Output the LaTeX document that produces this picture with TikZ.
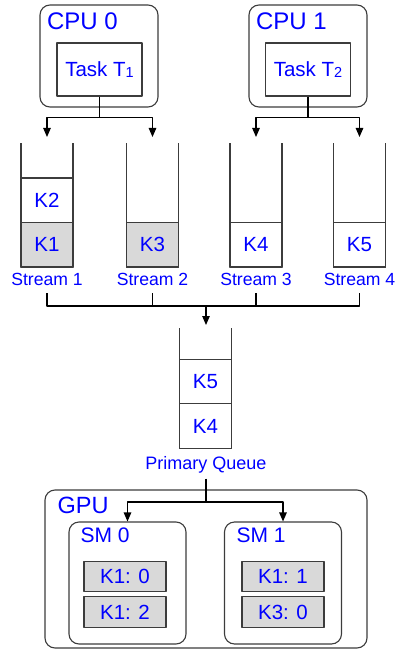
\documentclass[tikz,border=0pt]{standalone}
\usepackage{fontspec}
\setmainfont{Liberation Sans}
\usetikzlibrary{arrows.meta,calc}
\definecolor{qblue}{RGB}{0,0,255}
\definecolor{kgray}{RGB}{217,217,217}
\definecolor{edgegray}{RGB}{60,60,60}
\newcommand{\fsz}[1]{\fontsize{#1}{#1}\selectfont}
\begin{document}
\begin{tikzpicture}[x=1pt,y=-1pt,line join=round,line width=1.1pt,>={Triangle[length=9pt,width=7.5pt]}]
	\tikzset{every node/.style={text=qblue,inner sep=0pt},
		roundbox/.style={draw=edgegray,rounded corners=10pt},
		taskbox/.style={draw=edgegray,minimum width=85pt,minimum height=53pt,font=\fsz{20.5}},
		kbox/.style={draw=edgegray,fill=white,minimum width=52pt,minimum height=44.5pt,font=\fsz{20.5}},
		kdone/.style={kbox,fill=kgray},
		blk/.style={draw=edgegray,fill=kgray,minimum width=82pt,minimum height=30.5pt,font=\fsz{20.5}},
		title/.style={anchor=base west,font=\fsz{24}},
		caption/.style={anchor=base,font=\fsz{17.6}}}
	\useasboundingbox (0,0) rectangle (400,650);
	% host side
	\node[roundbox,minimum width=118pt,minimum height=102pt] (cpu0) at (99,56) {};
	\node[roundbox,minimum width=118pt,minimum height=102pt] (cpu1) at (308,56) {};
	\node[title] at (46.5,29.3) {CPU 0};
	\node[title] at (255.5,29.3) {CPU 1};
	\node[taskbox] (task0) at (99.5,69.5) {Task T\raisebox{-1.5pt}{\fsz{14.5}1}};
	\node[taskbox] (task1) at (308,69.5) {Task T\raisebox{-1.5pt}{\fsz{14.5}2}};
	% streams
	\foreach \x/\n in {47/1,152.5/2,256/3,359.5/4}{
		\draw[edgegray] (\x-26,143) |- (\x+26,267) -- (\x+26,143);
		\coordinate (s\n) at (\x,137);
		\node[caption] (st\n) at (\x,285.7) {Stream \n};
	}
	\node[kdone] (k1) at (47,244.75) {K1};
	\node[kbox] (k2) at (47,200.25) {K2};
	\node[kdone] (k3) at (152.5,244.75) {K3};
	\node[kbox] (k4) at (256,244.75) {K4};
	\node[kbox] (k5) at (359.5,244.75) {K5};
	\coordinate (f0) at ($(task0.south)+(0,21)$);
	\coordinate (f1) at ($(task1.south)+(0,21)$);
	\draw (task0.south) -- (f0);
	\draw (task1.south) -- (f1);
	\draw[->] (f0) -| (s1);
	\draw[->] (f0) -| (s2);
	\draw[->] (f1) -| (s3);
	\draw[->] (f1) -| (s4);
	% primary queue
	\coordinate (m) at (206,306);
	\coordinate (pqtop) at (206,325);
	\foreach \n in {1,...,4}
		\draw ([yshift=-7pt]st\n.south) |- (m);
	\draw[->] (m) -- (pqtop);
	\draw[edgegray] (179.5,328) |- (231.5,448) -- (231.5,328);
	\node[kbox] (q5) at (205.5,382) {K5};
	\node[kbox] (q4) at (205.5,426) {K4};
	\node[caption,font=\fsz{18}] (pq) at (206,469.3) {Primary Queue};
	% device side
	\node[roundbox,minimum width=322pt,minimum height=158pt] (gpu) at (206,569) {};
	\node[title,font=\fsz{23.5}] at (57,513) {GPU};
	\node[roundbox,minimum width=117pt,minimum height=122pt] (sm0) at (127.5,583) {};
	\node[roundbox,minimum width=117pt,minimum height=122pt] (sm1) at (283,583) {};
	\node[title,font=\fsz{21}] at (80,542) {SM 0};
	\node[title,font=\fsz{21}] at (236,542) {SM 1};
	\node[blk] (b00) at (125,576.5) {K1: 0};
	\node[blk] (b01) at (125,612) {K1: 2};
	\node[blk] (b10) at (283,576.5) {K1: 1};
	\node[blk] (b11) at (283,612) {K3: 0};
	\coordinate (g) at (206,502);
	\draw ([yshift=-5pt]pq.south) -- (g);
	\draw[->] (g) -| (sm0.north);
	\draw[->] (g) -| (sm1.north);
\end{tikzpicture}
\end{document}
